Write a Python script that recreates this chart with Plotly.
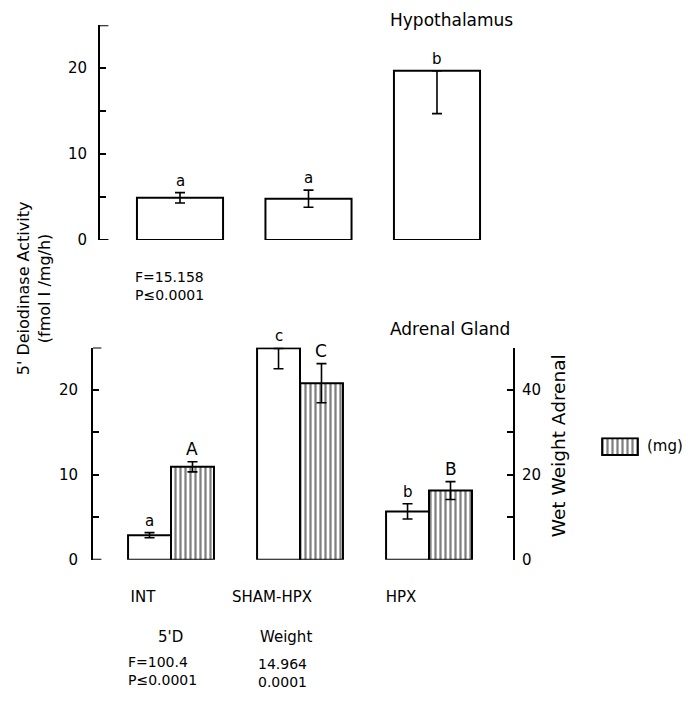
import plotly.graph_objects as go

# Treatment groups
groups = ["INT", "SHAM-HPX", "HPX"]

# Hypothalamus 5'-deiodinase activity (fmol I/mg/h), mean and SE
hypo_activity = [4.9, 4.8, 19.7]
hypo_err_up = [0.6, 1.0, 0.0]
hypo_err_down = [0.6, 1.0, 5.0]
hypo_letters = ["a", "a", "b"]

# Adrenal gland 5'-deiodinase activity (fmol I/mg/h)
adrenal_activity = [2.9, 24.9, 5.7]
adrenal_err_up = [0.3, 0.0, 0.9]
adrenal_err_down = [0.3, 2.4, 0.9]
adrenal_letters = ["a", "c", "b"]

# Adrenal wet weight (mg)
adrenal_weight = [21.9, 41.6, 16.3]
weight_err = [1.2, 4.6, 2.1]
weight_letters = ["A", "C", "B"]

# Axis ticks
act_ticks = [0, 5, 10, 15, 20]
act_ticktext = ["0", "", "10", "", "20"]
wt_ticks = [0, 10, 20, 30, 40]
wt_ticktext = ["0", "", "20", "", "40"]

W, H = 697, 707
FONT = "DejaVu Sans"


def px(x):
    return x / W


def py(y):
    return 1 - y / H


pattern = dict(shape="|", fgcolor="black", bgcolor="white", size=5, solidity=0.45)

fig = go.Figure()

# Top panel: hypothalamus
fig.add_trace(go.Bar(
    x=groups, y=hypo_activity, xaxis="x", yaxis="y", width=0.67,
    marker=dict(color="white", line=dict(color="black", width=2)),
    error_y=dict(type="data", symmetric=False, array=hypo_err_up,
                 arrayminus=hypo_err_down, color="black", thickness=1.6, width=5),
    showlegend=False,
))

# Bottom panel: adrenal activity (left axis) and weight (right axis)
fig.add_trace(go.Bar(
    x=groups, y=adrenal_activity, xaxis="x2", yaxis="y2", width=0.333, offset=-0.333,
    marker=dict(color="white", line=dict(color="black", width=2)),
    error_y=dict(type="data", symmetric=False, array=adrenal_err_up,
                 arrayminus=adrenal_err_down, color="black", thickness=1.6, width=5),
    showlegend=False,
))
fig.add_trace(go.Bar(
    x=groups, y=adrenal_weight, xaxis="x2", yaxis="y3", width=0.333, offset=0,
    marker=dict(color="white", line=dict(color="black", width=2), pattern=pattern),
    error_y=dict(type="data", array=weight_err, color="black", thickness=1.6, width=5),
    showlegend=False,
))

# Key swatch for the hatched weight bars
fig.add_trace(go.Bar(
    x=["(mg)"], y=[1], xaxis="x3", yaxis="y4", width=1,
    marker=dict(color="white", line=dict(color="black", width=2), pattern=pattern),
    showlegend=False, hoverinfo="skip",
))

tick_font = dict(family=FONT, size=15, color="black")

fig.update_layout(
    width=W, height=H,
    margin=dict(l=0, r=0, t=0, b=0),
    paper_bgcolor="white", plot_bgcolor="rgba(0,0,0,0)",
    font=dict(family=FONT, color="black"),
    barmode="overlay",
    xaxis=dict(domain=[px(100), px(520)], range=[-0.6226, 2.646], visible=False,
               anchor="y"),
    yaxis=dict(domain=[py(243), py(25.5)], range=[0, 25], anchor="x",
               showline=True, linecolor="black", linewidth=2, showgrid=False,
               zeroline=False, ticks="inside", ticklen=6, tickwidth=2,
               tickcolor="black", tickvals=act_ticks, ticktext=act_ticktext,
               tickfont=tick_font, ticklabelstandoff=8),
    xaxis2=dict(domain=[px(93), px(513)], range=[-0.6047, 2.651], anchor="y2",
                showline=False, showgrid=False, zeroline=False, ticks="",
                tickvals=groups, ticktext=groups, tickfont=tick_font,
                ticklabelshift=-28, ticklabelstandoff=26),
    yaxis2=dict(domain=[py(567), py(352)], range=[0, 25], anchor="x2",
                showline=True, linecolor="black", linewidth=2, showgrid=False,
                zeroline=False, ticks="inside", ticklen=6, tickwidth=2,
                tickcolor="black", tickvals=act_ticks, ticktext=act_ticktext,
                tickfont=tick_font, ticklabelstandoff=10),
    yaxis3=dict(domain=[py(567), py(352)], range=[0, 50], anchor="x2",
                overlaying="y2", side="right",
                showline=True, linecolor="black", linewidth=2, showgrid=False,
                zeroline=False, ticks="inside", ticklen=6, tickwidth=2,
                tickcolor="black", tickvals=wt_ticks, ticktext=wt_ticktext,
                tickfont=tick_font, ticklabelstandoff=4),
    xaxis3=dict(domain=[px(600), px(640)], range=[-0.56, 0.56], visible=False,
                anchor="y4"),
    yaxis4=dict(domain=[py(462), py(443)], range=[-0.06, 1.06], visible=False,
                anchor="x3"),
)

# Bracket serifs at the ends of the left activity axes
shapes = []
for yref, xref in (("y", "x domain"), ("y2", "x2 domain")):
    for yv in (0, 25):
        shapes.append(dict(type="line", xref=xref, yref=yref, x0=0, x1=0.02,
                           y0=yv, y1=yv, line=dict(color="black", width=2)))
fig.update_layout(shapes=shapes)

ann = []
letter_font = dict(family=FONT, size=15, color="black")

# Significance letters above bars
for i, g in enumerate(groups):
    ann.append(dict(x=i, y=hypo_activity[i] + hypo_err_up[i], xref="x", yref="y",
                    text=hypo_letters[i], showarrow=False, yanchor="bottom",
                    yshift=1, font=letter_font))
    ann.append(dict(x=i - 0.1665, y=adrenal_activity[i] + adrenal_err_up[i],
                    xref="x2", yref="y2", text=adrenal_letters[i], showarrow=False,
                    yanchor="bottom", yshift=1, font=letter_font))
    ann.append(dict(x=i + 0.1665, y=adrenal_weight[i] + weight_err[i],
                    xref="x2", yref="y3", text=weight_letters[i], showarrow=False,
                    yanchor="bottom", yshift=1, font=dict(family=FONT, size=17, color="black")))


def text(x, y, s, size=15, xanchor="left", angle=0, align="left"):
    ann.append(dict(x=px(x), y=py(y), xref="paper", yref="paper", text=s,
                    showarrow=False, xanchor=xanchor, yanchor="middle", align=align,
                    textangle=angle, font=dict(family=FONT, size=size, color="black")))


text(388, 20, "Hypothalamus", size=17)
text(388, 333, "Adrenal Gland", size=17)
text(133, 290, "F=15.158<br>P≤0.0001", size=14)
text(170, 645, "5'D", xanchor="center")
text(258, 645, "Weight")
text(126, 680, "F=100.4<br>P≤0.0001", size=14)
text(256, 682, "14.964<br>0.0001", size=14)
text(645, 452, "(mg)")
text(558, 452, "Wet Weight Adrenal", size=18.5, xanchor="center", angle=-90)
text(34, 292, "5' Deiodinase Activity<br>(fmol I /mg/h)", size=16,
     xanchor="center", angle=-90, align="center")

fig.update_layout(annotations=ann)

fig.write_html("out.html")
